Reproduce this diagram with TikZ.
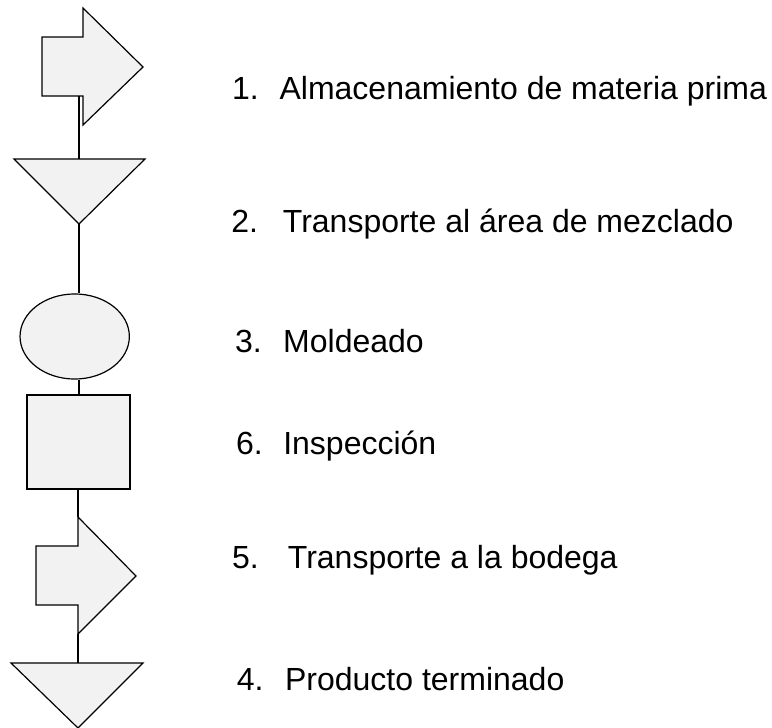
\documentclass[tikz,border=0pt]{standalone}
\usepackage{fontspec}
\setmainfont{Liberation Sans}
\usepackage{tikz}
\usetikzlibrary{positioning, shapes.geometric}
\definecolor{shapeFill}{RGB}{242, 242, 242}

\begin{document}
\begin{tikzpicture}[x=0.75pt, y=-0.75pt, line width=0.9pt,
    font=\fontsize{24pt}{28pt}\selectfont,
    sym/.style={draw=black, fill=shapeFill, line join=miter},
    lbl/.style={anchor=base west, inner sep=0pt}]
  \useasboundingbox (0,0) rectangle (772,728);

  % 1. storage arrow
  \draw[sym] (42,37) -- (83,37) -- (83,8) -- (143,67) -- (83,125) -- (83,96) -- (42,96) -- cycle;
  \coordinate (a1) at (79,96);

  % 2. transport triangle
  \draw[sym] (14,159) -- (145,159) -- (79,224) -- cycle;
  \coordinate (t1top) at (79,159);
  \coordinate (t1) at (79,224);

  % 3. moulding
  \node[sym, ellipse, minimum width=82pt, minimum height=63.8pt, inner sep=0pt] (mold) at (74.7,336.5) {};

  % 6. inspection
  \node[sym, rectangle, minimum width=77.25pt, minimum height=70.5pt, inner sep=0pt] (insp) at (78.5,442) {};

  % 5. transport arrow
  \draw[sym] (36,546) -- (78,546) -- (78,517) -- (136,576) -- (78,634) -- (78,605) -- (36,605) -- cycle;
  \coordinate (a2top) at (78,517);
  \coordinate (a2) at (78,634);

  % 4. finished product
  \draw[sym] (11,663) -- (143,663) -- (78,728) -- cycle;
  \coordinate (t2top) at (78,663);

  % connectors
  \draw (a1) -- (t1top);
  \draw (t1) -- (t1 |- mold.north);
  \draw (t1 |- mold.south) -- (t1 |- insp.north);
  \draw (a2top |- insp.south) -- (a2top);
  \draw (a2) -- (t2top);

  % labels
  \node[lbl] (n1) at (231.5,99) {1.};
  \node[lbl] (l1) at (279,99) {Almacenamiento de materia prima};
  \node[lbl] (n2) at (230.7,232) {2.};
  \node[lbl] (l2) at (282.3,232) {Transporte al área de mezclado};
  \node[lbl] (n3) at (234.6,352) {3.};
  \node[lbl] (l3) at (282.6,352) {Moldeado};
  \node[lbl] (n6) at (235.5,454) {6.};
  \node[lbl] (l6) at (282.7,454) {Inspección};
  \node[lbl] (n5) at (231.6,568) {5.};
  \node[lbl] (l5) at (287.3,568) {Transporte a la bodega};
  \node[lbl] (n4) at (236.2,690) {4.};
  \node[lbl] (l4) at (284.5,690) {Producto terminado};
\end{tikzpicture}
\end{document}
